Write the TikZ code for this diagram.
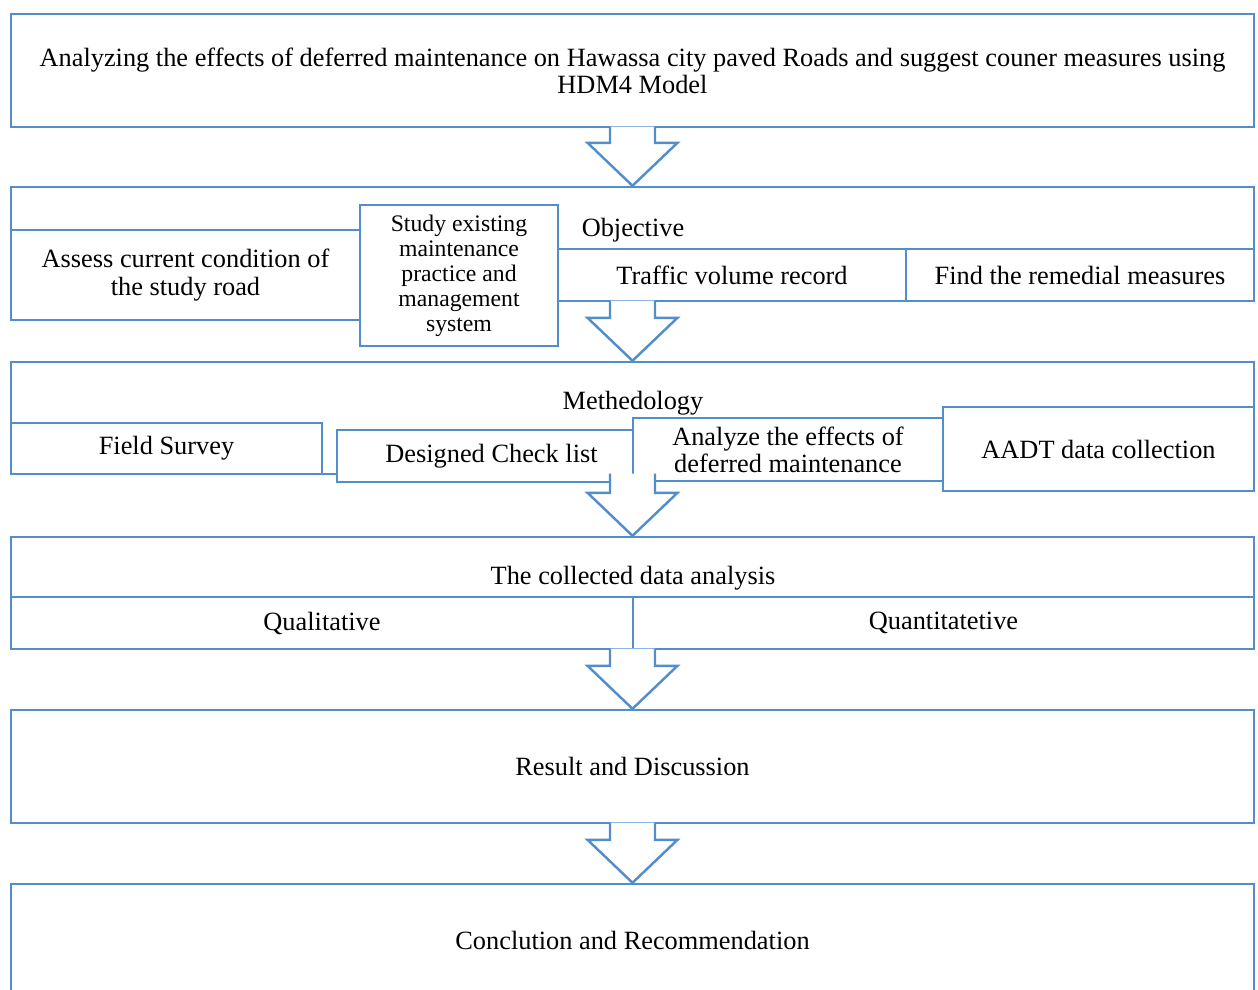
\documentclass[tikz,border=0pt]{standalone}
\usepackage{fontspec}
\setmainfont{Liberation Serif}
\usepackage{xcolor}
\usetikzlibrary{calc}

\definecolor{boxblue}{RGB}{82,142,204}

% hollow block arrow from one box down to the next
\newcommand{\downblock}[2]{%
	\draw[bigarrow] let \p1=(#1.south), \p2=(#2.north) in
		(\x2-0.45cm,\y1+0.9pt) -- (\x2-0.45cm,\y2+0.86cm) -- (\x2-0.9cm,\y2+0.86cm)
		-- (\x2,\y2) -- (\x2+0.9cm,\y2+0.86cm) -- (\x2+0.45cm,\y2+0.86cm)
		-- (\x2+0.45cm,\y1+0.9pt);}

\begin{document}
\begin{tikzpicture}[
		x=0.02cm,
		y=-0.02cm,
		line join=miter,
		box/.style={
			draw=boxblue,
			line width=1.4pt,
			fill=white,
			rectangle,
			inner sep=0pt,
			align=center,
			font=\fontsize{15pt}{15.5pt}\selectfont
		},
		smallbox/.style={
			box,
			font=\fontsize{13.5pt}{14.2pt}\selectfont
		},
		caption/.style={
			inner sep=0pt,
			font=\fontsize{15pt}{15.5pt}\selectfont
		},
		bigarrow/.style={
			draw=boxblue,
			line width=1.4pt,
			fill=white
		}
		]
		
		% page frame
		\useasboundingbox (0,0) rectangle (1258,990);
		
		% title
		\node[box, minimum width=24.86cm, minimum height=2.26cm] (title) at (632.5,70.5)
			{Analyzing the effects of deferred maintenance on Hawassa city paved Roads and suggest couner measures using\\HDM4 Model};
		
		% objective block
		\node[box, minimum width=24.86cm, minimum height=2.28cm] (obj) at (632.5,244) {};
		\node[caption] (objtext) at (633,230) {Objective};
		\node[box, minimum width=6.98cm, minimum height=1.8cm] (assess) at (185.5,275)
			{Assess current condition of\\the study road};
		\node[smallbox, minimum width=3.96cm, minimum height=2.82cm] (study) at (459,275.5)
			{Study existing\\maintenance\\practice and\\management\\system};
		\node[box, minimum width=6.96cm, minimum height=1.04cm] (traffic) at (732,275)
			{Traffic volume record};
		\node[box, minimum width=6.96cm, minimum height=1.04cm] (remedy) at (1080,275)
			{Find the remedial measures};
		
		% methodology block
		\node[box, minimum width=24.86cm, minimum height=2.24cm] (meth) at (632.5,418) {};
		\node[caption] (methtext) at (633,403) {Methedology};
		\node[box, minimum width=6.22cm, minimum height=1.02cm] (field) at (166.5,448.5)
			{Field Survey};
		\node[box, minimum width=6.18cm, minimum height=1.04cm] (check) at (491.5,456)
			{Designed Check list};
		\node[box, minimum width=6.2cm, minimum height=1.26cm] (effects) at (788,449.5)
			{Analyze the effects of\\deferred maintenance};
		\node[box, minimum width=6.22cm, minimum height=1.68cm] (aadt) at (1098.5,449)
			{AADT data collection};
		
		% analysis block
		\node[box, minimum width=24.86cm, minimum height=2.24cm] (anal) at (632.5,593) {};
		\node[caption] (analtext) at (633,578) {The collected data analysis};
		\node[box, minimum width=12.44cm, minimum height=1.04cm] (qual) at (322,623)
			{Qualitative};
		\node[box, minimum width=12.42cm, minimum height=1.04cm] (quant) at (943.5,623)
			{Quantitatetive};
		
		% result and conclusion
		\node[box, minimum width=24.86cm, minimum height=2.26cm] (result) at (632.5,766.5)
			{Result and Discussion};
		\node[box, minimum width=24.86cm, minimum height=2.26cm] (concl) at (632.5,940.5)
			{Conclution and Recommendation};
		
		% arrows between the blocks
		\downblock{title}{obj}
		\downblock{obj}{meth}
		\downblock{meth}{anal}
		\downblock{anal}{result}
		\downblock{result}{concl}
	\end{tikzpicture}
\end{document}
